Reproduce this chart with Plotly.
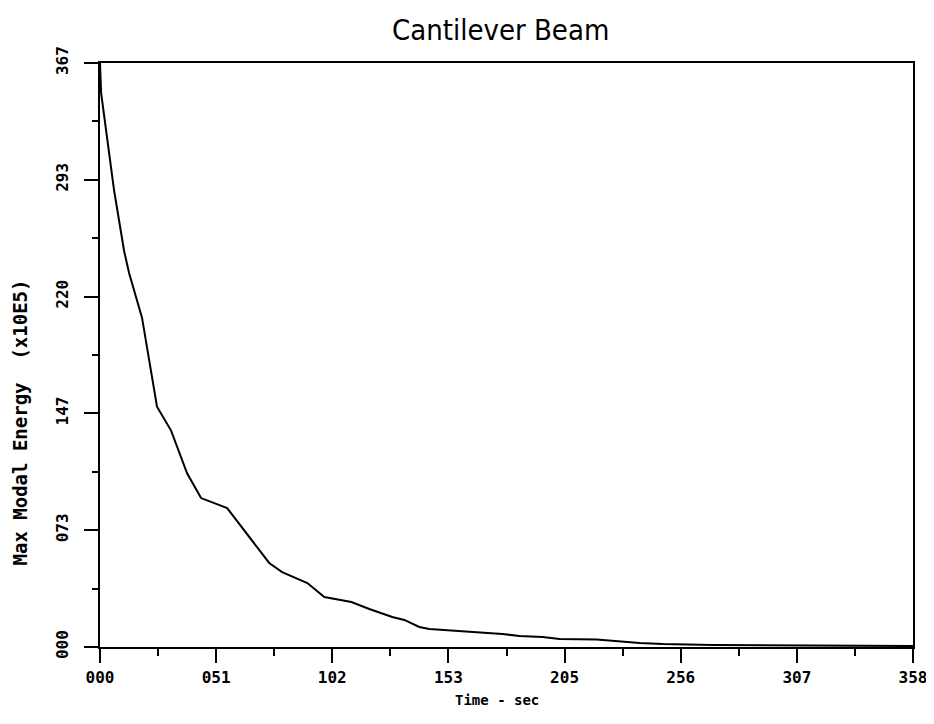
import plotly.graph_objects as go

# time (sec) and max modal energy (x10E5)
time_sec = [0.0, 0.005, 0.062, 0.106, 0.128, 0.185, 0.251, 0.313, 0.384, 0.445,
            0.560, 0.644, 0.745, 0.802, 0.913, 0.988, 1.107, 1.186, 1.287, 1.340,
            1.406, 1.450, 1.627, 1.772, 1.847, 1.949, 2.024, 2.187, 2.376, 2.478,
            2.698, 3.58]
energy = [3.67, 3.48, 2.87, 2.49, 2.35, 2.07, 1.51, 1.36, 1.09, 0.936,
          0.873, 0.716, 0.528, 0.471, 0.402, 0.314, 0.283, 0.239, 0.189, 0.170,
          0.126, 0.113, 0.094, 0.082, 0.069, 0.063, 0.050, 0.047, 0.025, 0.019,
          0.013, 0.006]

x_tickvals = [0.0, 0.5114, 1.0229, 1.5343, 2.0457, 2.5571, 3.0686, 3.58]
x_ticktext = ["000", "051", "102", "153", "205", "256", "307", "358"]
y_tickvals = [0.0, 0.734, 1.468, 2.202, 2.936, 3.67]
y_ticktext = ["000", "073", "147", "220", "293", "367"]

x_minor = [(a + b) / 2 for a, b in zip(x_tickvals[:-1], x_tickvals[1:])]
y_minor = [(a + b) / 2 for a, b in zip(y_tickvals[:-1], y_tickvals[1:])]

tickfont = dict(family="DejaVu Sans Mono", size=16, color="black", weight="bold")
labelfont = dict(family="DejaVu Sans Mono", size=14, color="black", weight="bold")

fig = go.Figure()
fig.add_trace(go.Scatter(x=time_sec, y=energy, mode="lines",
                         line=dict(color="black", width=2), showlegend=False))

# page body has an 8px margin, so the figure sits 8px in from the window edge
fig.update_layout(
    width=926, height=716,
    paper_bgcolor="white", plot_bgcolor="white",
    margin=dict(l=92, r=21, t=55, b=77),
    title=dict(text="Cantilever Beam", x=0.532, xanchor="center",
               y=0.969, yanchor="middle",
               font=dict(family="DejaVu Sans Condensed, Liberation Sans Narrow, DejaVu Sans",
                         size=29, color="black")),
    annotations=[
        dict(text="Time - sec", xref="paper", yref="paper", x=0.488, y=-0.091,
             showarrow=False, xanchor="center", yanchor="middle", font=labelfont),
        dict(text="Max Modal Energy  (x10E5)", xref="paper", yref="paper",
             x=-0.098, y=0.385, textangle=-90, showarrow=False,
             xanchor="center", yanchor="middle",
             font=dict(family="DejaVu Sans Mono", size=19, color="black", weight="bold")),
    ],
)
fig.update_xaxes(
    range=[0, 3.58], tickmode="array", tickvals=x_tickvals, ticktext=x_ticktext,
    ticks="outside", ticklen=14, tickwidth=2, tickcolor="black",
    ticklabelstandoff=1, automargin=False,
    showline=True, linewidth=2, linecolor="black", mirror=True,
    showgrid=False, zeroline=False, tickfont=tickfont,
    minor=dict(tickmode="array", tickvals=x_minor, ticks="outside", ticklen=7,
               tickwidth=2, tickcolor="black", showgrid=False),
)
fig.update_yaxes(
    range=[0, 3.67], tickmode="array", tickvals=y_tickvals, ticktext=y_ticktext,
    ticks="outside", ticklen=14, tickwidth=2, tickcolor="black", tickangle=-90,
    ticklabelstandoff=10, automargin=False,
    showline=True, linewidth=2, linecolor="black", mirror=True,
    showgrid=False, zeroline=False, tickfont=tickfont,
    minor=dict(tickmode="array", tickvals=y_minor, ticks="outside", ticklen=6,
               tickwidth=2, tickcolor="black", showgrid=False),
)

fig.write_html("out.html")
